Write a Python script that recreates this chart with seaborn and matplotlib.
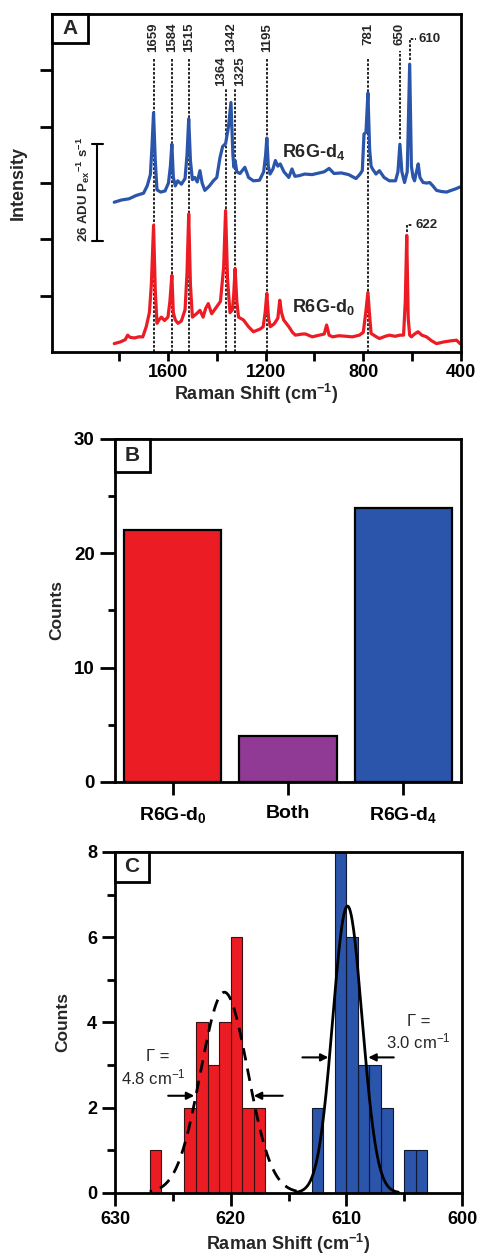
import numpy as np
import pandas as pd
import matplotlib
matplotlib.use('Agg')
import matplotlib.pyplot as plt
from matplotlib.patches import Rectangle
from matplotlib.ticker import MultipleLocator, FixedLocator
import seaborn as sns

# ---- panel A: spectra (Raman shift cm-1, intensity in tick units)
d4_shift = [1820, 1790, 1760, 1730, 1700, 1685, 1672, 1666, 1659, 1652, 1645, 1630, 1612, 1598,
            1590, 1584, 1578, 1570, 1560, 1545, 1530, 1522, 1515, 1508, 1500, 1490, 1480, 1469,
            1460, 1449, 1430, 1414, 1400, 1387, 1376, 1364, 1352, 1342, 1334, 1330, 1325, 1318,
            1305, 1285, 1270, 1250, 1225, 1208, 1200, 1195, 1189, 1182, 1170, 1160, 1150, 1140,
            1125, 1105, 1092, 1080, 1064, 1040, 1010, 980, 960, 940, 920, 890, 860, 830, 815,
            804, 797, 789, 781, 774, 768, 762, 748, 734, 715, 693, 668, 658, 650, 642, 631, 620,
            610, 603, 596, 590, 582, 575, 568, 555, 540, 528, 515, 500, 480, 459, 440, 420, 404]
d4_int = [2.66, 2.70, 2.72, 2.78, 2.82, 2.95, 3.15, 3.60, 4.25, 3.40, 2.88, 2.84, 2.86, 3.00,
          3.30, 3.69, 3.10, 2.95, 3.04, 2.98, 3.08, 3.50, 4.14, 3.40, 3.06, 3.10, 3.02, 3.22,
          3.00, 2.87, 2.95, 3.04, 3.10, 3.45, 3.65, 3.70, 4.00, 4.43, 3.50, 3.28, 3.40, 3.20,
          3.17, 3.28, 3.10, 3.04, 3.05, 3.20, 3.50, 3.80, 3.30, 3.16, 3.25, 3.40, 3.30, 3.34,
          3.20, 3.10, 3.25, 3.12, 3.13, 3.16, 3.15, 3.18, 3.20, 3.26, 3.17, 3.18, 3.15, 3.08, 3.15,
          3.22, 3.87, 3.90, 4.60, 3.60, 3.30, 3.25, 3.16, 3.22, 3.10, 3.04, 3.04, 3.20, 3.69, 3.20,
          3.01, 3.20, 5.11, 3.30, 3.10, 3.04, 3.20, 3.34, 3.10, 3.01, 3.00, 3.01, 2.95, 2.87, 2.85,
          2.84, 2.87, 2.90, 2.93]

d0_shift = [1820, 1795, 1775, 1765, 1755, 1737, 1720, 1703, 1689, 1676, 1668, 1659, 1652, 1645,
            1635, 1627, 1614, 1600, 1592, 1584, 1578, 1570, 1559, 1545, 1530, 1522, 1515, 1508,
            1500, 1483, 1469, 1456, 1445, 1435, 1421, 1401, 1385, 1372, 1364, 1356, 1346, 1336,
            1331, 1325, 1318, 1311, 1291, 1270, 1250, 1222, 1210, 1202, 1195, 1188, 1181, 1165,
            1150, 1142, 1135, 1126, 1105, 1090, 1078, 1050, 1036, 1009, 980, 960, 950, 940, 926,
            900, 870, 845, 816, 800, 790, 781, 775, 768, 750, 734, 710, 693, 670, 650, 635, 628,
            622, 616, 610, 603, 590, 576, 560, 541, 520, 500, 470, 440, 418, 404]
d0_int = [0.15, 0.18, 0.22, 0.30, 0.26, 0.25, 0.27, 0.27, 0.45, 0.70, 1.20, 2.25, 1.10, 0.51,
          0.58, 0.62, 0.56, 0.62, 0.90, 1.36, 0.70, 0.57, 0.51, 0.55, 0.75, 1.40, 2.45, 1.20,
          0.62, 0.68, 0.74, 0.62, 0.78, 0.86, 0.68, 0.80, 0.90, 1.50, 2.51, 1.30, 0.70, 0.75,
          1.00, 1.48, 0.90, 0.62, 0.57, 0.45, 0.36, 0.41, 0.45, 0.70, 1.04, 0.60, 0.45, 0.50,
          0.60, 0.92, 0.70, 0.57, 0.45, 0.35, 0.30, 0.32, 0.32, 0.27, 0.30, 0.32, 0.48, 0.30, 0.27,
          0.29, 0.28, 0.27, 0.30, 0.35, 0.70, 1.06, 0.70, 0.33, 0.28, 0.24, 0.28, 0.30, 0.28, 0.30,
          0.30, 0.90, 2.07, 0.60, 0.30, 0.27, 0.32, 0.36, 0.30, 0.27, 0.20, 0.15, 0.18, 0.20, 0.21,
          0.15]

top_peaks = [1659, 1584, 1515, 1195]
low_peaks = [1364, 1325]

# ---- panel B
groups = ['R6G-d$_0$', 'Both', 'R6G-d$_4$']
group_counts = [22, 4, 24]

# ---- panel C: histogram bin centres and counts
d0_centres = [626.5, 625.5, 624.5, 623.5, 622.5, 621.5, 620.5, 619.5, 618.5, 617.5]
d0_counts = [1, 0, 0, 2, 4, 3, 4, 6, 2, 2]
d4_centres = [612.5, 611.5, 610.5, 609.5, 608.5, 607.5, 606.5, 605.5, 604.5, 603.5]
d4_counts = [2, 0, 8, 6, 3, 3, 2, 0, 1, 1]
# gaussian fits: centre, height, FWHM
fit_d0 = (620.55, 4.71, 4.8)
fit_d4 = (609.9, 6.73, 3.0)

RED = '#ec1c24'
BLUE = '#2a55aa'
PURPLE = '#913a95'

sns.set_theme(style='ticks')
plt.rcParams['font.family'] = ['Liberation Sans', 'DejaVu Sans']
plt.rcParams['font.weight'] = 'bold'
plt.rcParams['axes.labelweight'] = 'bold'
plt.rcParams['mathtext.fontset'] = 'custom'
plt.rcParams['mathtext.rm'] = 'Liberation Sans:bold'
plt.rcParams['mathtext.it'] = 'Liberation Sans:bold'
plt.rcParams['mathtext.bf'] = 'Liberation Sans:bold'
plt.rcParams['axes.edgecolor'] = 'black'
plt.rcParams['axes.linewidth'] = 2.0
plt.rcParams['xtick.color'] = 'black'
plt.rcParams['ytick.color'] = 'black'

fig = plt.figure(figsize=(4.8, 12.56), dpi=100)
axA = fig.add_axes([0.1083, 0.7197, 0.852, 0.2691])
axB = fig.add_axes([0.2396, 0.3774, 0.7208, 0.2731])
axC = fig.add_axes([0.2396, 0.0502, 0.7229, 0.2715])


def panel_tag(ax, letter, w, h):
    ax.add_patch(Rectangle((0, 1 - h), w, h, transform=ax.transAxes, facecolor='white',
                           edgecolor='black', lw=2, zorder=10, clip_on=False))
    ax.text(w / 2, 1 - h / 2, letter, transform=ax.transAxes, ha='center', va='center',
            fontsize=15, fontweight='bold', zorder=11)


# ================= A =================
dash = dict(color='black', lw=1.2, linestyle=(0, (1.6, 1.0)), zorder=1)
lab = dict(rotation=90, ha='center', va='bottom', fontsize=9.5)
for p in top_peaks:
    axA.plot([p, p], [0, 5.22], **dash)
    axA.text(p, 5.33, str(p), **lab)
for p, tx in zip(low_peaks, [1383, 1305]):
    axA.plot([p, p], [0, 4.67], **dash)
    axA.text(tx, 4.72, str(p), **lab)
axA.text(1342, 5.33, '1342', **lab)
axA.plot([781, 781], [0, 5.22], **dash)
axA.text(781, 5.45, '781', **lab)
axA.plot([650, 650], [3.78, 5.35], **dash)
axA.text(650, 5.45, '650', **lab)
axA.plot([610, 610, 585], [5.18, 5.56, 5.56], **dash)
axA.text(574, 5.56, '610', ha='left', va='center', fontsize=9.5)
axA.plot([622, 622, 597], [2.13, 2.25, 2.25], **dash)
axA.text(586, 2.25, '622', ha='left', va='center', fontsize=9.5)

spec = pd.DataFrame({'shift': d4_shift + d0_shift, 'intensity': d4_int + d0_int,
                     'sample': ['d4'] * len(d4_shift) + ['d0'] * len(d0_shift)})
sns.lineplot(data=spec, x='shift', y='intensity', hue='sample', palette={'d4': BLUE, 'd0': RED},
             lw=2.3, estimator=None, legend=False, ax=axA, zorder=3)

axA.text(1004, 3.55, 'R6G-d$_4$', ha='center', va='center', fontsize=13)
axA.text(963, 0.80, 'R6G-d$_0$', ha='center', va='center', fontsize=13)

# scale bar
axA.plot([1890, 1890], [1.98, 3.70], color='black', lw=1.5, clip_on=False)
axA.plot([1912, 1866], [3.70, 3.70], color='black', lw=1.5, clip_on=False)
axA.plot([1912, 1866], [1.98, 1.98], color='black', lw=1.5, clip_on=False)
axA.text(1948, 2.88, r'26 ADU P$_{ex}$$^{-1}$ s$^{-1}$', rotation=90, ha='center',
         va='center', fontsize=9.5)

axA.set_xlim(2075, 400)
axA.set_ylim(0, 6)
axA.xaxis.set_major_locator(FixedLocator([1600, 1200, 800, 400]))
axA.xaxis.set_minor_locator(FixedLocator([1800, 1400, 1000, 600]))
axA.yaxis.set_major_locator(FixedLocator([1, 2, 3, 4, 5]))
axA.set_yticklabels([])
axA.tick_params(axis='x', which='both', direction='out', length=6.5, width=2, labelsize=13, pad=2)
axA.tick_params(axis='y', which='both', direction='out', length=8.6, width=2)
axA.set_xlabel('Raman Shift (cm$^{-1}$)', fontsize=13, labelpad=1)
axA.set_ylabel('Intensity', fontsize=13)
axA.yaxis.set_label_coords(-0.061, 0.5)
panel_tag(axA, 'A', 0.088, 0.086)

# ================= B =================
sns.barplot(x=groups, y=group_counts, hue=groups, palette=[RED, PURPLE, BLUE], legend=False,
            width=0.845, edgecolor='black', linewidth=1.6, saturation=1, ax=axB)
axB.set_xlim(-0.5, 2.5)
axB.set_ylim(0, 30)
axB.yaxis.set_major_locator(MultipleLocator(10))
axB.yaxis.set_minor_locator(MultipleLocator(5))
axB.tick_params(axis='y', which='major', direction='out', length=11, width=2, labelsize=13.5)
axB.tick_params(axis='y', which='minor', direction='out', length=5, width=2)
axB.tick_params(axis='x', direction='out', length=9.5, width=2, labelsize=14, pad=7)
axB.set_ylabel('Counts', fontsize=12.5)
axB.yaxis.set_label_coords(-0.146, 0.5)
axB.set_xlabel('')
panel_tag(axB, 'B', 0.101, 0.096)

# ================= C =================
h0 = pd.DataFrame({'shift': d0_centres, 'n': d0_counts})
h4 = pd.DataFrame({'shift': d4_centres, 'n': d4_counts})
sns.histplot(data=h0, x='shift', weights='n', binwidth=1, binrange=(617, 627), color=RED,
             alpha=1, edgecolor='#3a1010', linewidth=0.8, ax=axC, zorder=2)
sns.histplot(data=h4, x='shift', weights='n', binwidth=1, binrange=(603, 613), color=BLUE,
             alpha=1, edgecolor='#101830', linewidth=0.8, ax=axC, zorder=2)

c0, a0, g0 = fit_d0
x0 = np.linspace(627.0, 614.3, 300)
y0 = a0 * np.exp(-4 * np.log(2) * (x0 - c0) ** 2 / g0 ** 2)
sns.lineplot(x=x0, y=y0, color='black', lw=2.0, linestyle=(0, (4.5, 3)), estimator=None,
             ax=axC, zorder=4)
c4, a4, g4 = fit_d4
x4 = np.linspace(614.4, 605.5, 300)
y4 = a4 * np.exp(-4 * np.log(2) * (x4 - c4) ** 2 / g4 ** 2)
sns.lineplot(x=x4, y=y4, color='black', lw=2.0, estimator=None, ax=axC, zorder=4)

arr = dict(arrowstyle='-|>', color='black', lw=1.5, mutation_scale=11, shrinkA=0, shrinkB=0)
axC.annotate('', xy=(623.15, 2.28), xytext=(625.4, 2.28), arrowprops=arr, zorder=5)
axC.annotate('', xy=(618.0, 2.28), xytext=(615.5, 2.28), arrowprops=arr, zorder=5)
axC.annotate('', xy=(611.55, 3.18), xytext=(613.8, 3.18), arrowprops=arr, zorder=5)
axC.annotate('', xy=(608.1, 3.18), xytext=(605.9, 3.18), arrowprops=arr, zorder=5)
axC.text(626.3, 3.2, '\u0393 =', ha='center', va='center', fontsize=12, fontweight='normal')
axC.text(626.7, 2.72, '4.8 cm$^{\\mathregular{-1}}$', ha='center', va='center', fontsize=12,
         fontweight='normal')
axC.text(603.7, 4.02, '\u0393 =', ha='center', va='center', fontsize=12, fontweight='normal')
axC.text(603.8, 3.55, '3.0 cm$^{\\mathregular{-1}}$', ha='center', va='center', fontsize=12,
         fontweight='normal')

axC.set_xlim(630, 600)
axC.set_ylim(0, 8)
axC.xaxis.set_major_locator(MultipleLocator(10))
axC.xaxis.set_minor_locator(MultipleLocator(5))
axC.yaxis.set_major_locator(MultipleLocator(2))
axC.yaxis.set_minor_locator(MultipleLocator(1))
axC.tick_params(axis='both', which='major', direction='out', length=9.5, width=2, labelsize=13)
axC.tick_params(axis='both', which='minor', direction='out', length=5.5, width=2)
axC.set_xlabel('Raman Shift (cm$^{-1}$)', fontsize=13, labelpad=3)
axC.set_ylabel('Counts', fontsize=12.5)
axC.yaxis.set_label_coords(-0.13, 0.5)
panel_tag(axC, 'C', 0.098, 0.088)

for ax in (axA, axB, axC):
    for s in ax.spines.values():
        s.set_visible(True)
        s.set_linewidth(2)
        s.set_zorder(6)

fig.savefig('out.png', dpi=100, facecolor='white')
